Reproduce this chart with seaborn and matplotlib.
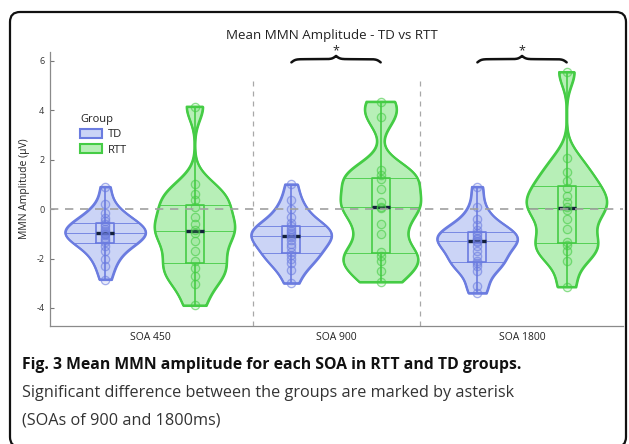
import numpy as np
import pandas as pd
import matplotlib
matplotlib.use("Agg")
import matplotlib.pyplot as plt
import seaborn as sns
from matplotlib.patches import FancyBboxPatch, Patch
from matplotlib.collections import PathCollection
from matplotlib.transforms import IdentityTransform

# ---------------- data ----------------
soas = ["SOA 450", "SOA 900", "SOA 1800"]
groups = ["TD", "RTT"]

td_450 = [0.9, 0.2, -0.15, -0.35, -0.5, -0.6, -0.7, -0.8, -0.9, -0.95,
          -1.0, -1.05, -1.15, -1.25, -1.32, -1.5, -1.7, -2.0, -2.3, -2.85]
td_900 = [1.0, 0.35, 0.0, -0.3, -0.55, -0.7, -0.8, -0.9, -0.98, -1.05,
          -1.13, -1.25, -1.4, -1.55, -1.75, -1.85, -2.0, -2.2, -2.45, -3.0]
td_1800 = [0.9, 0.1, -0.4, -0.65, -0.85, -0.95, -1.05, -1.15, -1.22, -1.28,
           -1.32, -1.5, -1.7, -1.9, -2.1, -2.2, -2.3, -2.5, -3.1, -3.4]
rtt_450 = [4.15, 1.0, 0.6, 0.35, 0.1, -0.3, -0.6, -0.85, -0.95, -1.3,
           -1.7, -2.1, -2.4, -2.7, -3.05, -3.9]
rtt_900 = [4.35, 3.72, 1.6, 1.4, 1.2, 0.8, 0.3, 0.1, 0.05, -0.6,
           -1.0, -1.75, -1.9, -2.1, -2.5, -2.95]
rtt_1800 = [5.55, 2.05, 1.5, 1.15, 0.85, 0.55, 0.3, 0.1, -0.02, -0.4,
            -0.8, -1.35, -1.45, -1.7, -2.1, -3.15]

title = "Mean MMN Amplitude - TD vs RTT"
ylabel = "MMN Amplitude (μV)"
yticks = [-4, -2, 0, 2, 4, 6]
sig_soas = ["SOA 900", "SOA 1800"]
caption_bold = "Fig. 3 Mean MMN amplitude for each SOA in RTT and TD groups."
caption_lines = ["Significant difference between the groups are marked by asterisk",
                 "(SOAs of 900 and 1800ms)"]

fill_colors = {"TD": "#cbd4f6", "RTT": "#b7efb7"}
edge_colors = {"TD": "#6b7ce0", "RTT": "#45cc45"}
kde_bandwidth = {"TD": 0.42, "RTT": 0.55}  # absolute kernel bandwidth (µV)

rows = []
for soa, vals in zip(soas, [td_450, td_900, td_1800]):
    rows += [(soa, "TD", v) for v in vals]
for soa, vals in zip(soas, [rtt_450, rtt_900, rtt_1800]):
    rows += [(soa, "RTT", v) for v in vals]
df = pd.DataFrame(rows, columns=["SOA", "Group", "Amp"])


def fixed_bw(h):
    def _bw(kde):
        x = np.asarray(kde.dataset).ravel()
        return h / x.std(ddof=1)
    return _bw


# ---------------- style ----------------
sns.set_theme(style="white")
plt.rcParams["font.family"] = ["Open Sans", "DejaVu Sans"]
plt.rcParams["text.color"] = "#222222"

W, H, DPI = 629, 444, 100
fig = plt.figure(figsize=(W / DPI, H / DPI), dpi=DPI)
fig.patch.set_facecolor("white")

ax_l, ax_r, ax_t, ax_b = 50, 623, 52, 326
ax = fig.add_axes([ax_l / W, (H - ax_b) / H, (ax_r - ax_l) / W, (ax_b - ax_t) / H])
ax.set_facecolor("white")

WIDTH = 0.96
for g in groups:
    sub = df[df.Group == g]
    kde_opts = dict(cut=0, density_norm="width", bw_method=fixed_bw(kde_bandwidth[g]),
                    bw_adjust=1.0, gridsize=400)
    common = dict(data=sub, x="SOA", y="Amp", hue="Group", order=soas,
                  hue_order=groups, dodge=True, ax=ax, legend=False)
    sns.violinplot(**common, **kde_opts, palette=fill_colors, saturation=1,
                   linecolor=edge_colors[g], linewidth=1.5, width=WIDTH, gap=0.1,
                   inner="quart",
                   inner_kws=dict(color=edge_colors[g], linewidth=0.6, dashes=[]))
    n0 = len(ax.collections)
    sns.violinplot(**common, **kde_opts, palette=edge_colors, saturation=1,
                   fill=False, linewidth=1.5, width=WIDTH, gap=0.1,
                   inner="point", inner_kws=dict(s=36))
    rgb = matplotlib.colors.to_rgb(edge_colors[g])
    for c in ax.collections[n0:]:
        if isinstance(c, PathCollection):
            c.set_facecolor((*rgb, 0.15))
            c.set_edgecolor((*rgb, 0.6))
            c.set_linewidth(0.9)
    sns.boxplot(**common, palette=edge_colors, saturation=1, fill=False,
                width=WIDTH, gap=0.8, whis=(0, 100), showcaps=False,
                showfliers=False, linewidth=1.2,
                medianprops=dict(color="#13203a", linewidth=2.4))

# reference lines
ax.axhline(0, color="#a0a0a0", lw=1.2, dashes=(5, 4), zorder=6)
ax.vlines([0.554, 1.452], -4.73, 5.35, colors="#a8a8a8", lw=0.9,
          linestyles=(0, (4, 4)), zorder=0)

ax.set_xlim(-0.538, 2.543)
ax.set_ylim(-4.73, 6.36)
ax.set_yticks(yticks)
ax.set_yticklabels([str(t) for t in yticks])
ax.set_xlabel("")
ax.set_ylabel(ylabel, fontsize=7.5, color="#222")
ax.yaxis.set_label_coords(-(50 - 30) / 573, 0.5)
for s in ["top", "right"]:
    ax.spines[s].set_visible(False)
for s in ["left", "bottom"]:
    ax.spines[s].set_color("#8a8a8a")
    ax.spines[s].set_linewidth(0.9)
ax.tick_params(axis="y", direction="in", length=3, width=0.8, color="#777",
               labelsize=6.5, pad=4, labelcolor="#333", left=True)
ax.tick_params(axis="x", length=0, labelsize=7.5, pad=4, labelcolor="#222")

# legend
handles = [Patch(facecolor=fill_colors[g], edgecolor=edge_colors[g], lw=1.5, label=g)
           for g in groups]
leg = ax.legend(handles=handles, title="Group", loc="upper left",
                bbox_to_anchor=((80 - 50) / 573, (326 - 114) / 274),
                frameon=False, fontsize=8, title_fontsize=8, handlelength=2.0,
                handleheight=0.9, labelspacing=0.35, borderpad=0,
                handletextpad=0.5, borderaxespad=0, alignment="left")

# significance braces
def curly_brace(ax, x0, x1, y, h, beta=45):
    t = np.linspace(0, 0.5, 200)
    half = 1 / (1 + np.exp(-beta * t)) + 1 / (1 + np.exp(-beta * (t - 0.5)))
    yy = np.concatenate([half, half[-2::-1]]) - 1.0
    xx = np.linspace(x0, x1, len(yy))
    ax.plot(xx, y + 2 * h * yy, color="#111", lw=1.8, clip_on=False,
            solid_capstyle="round", zorder=10)

for soa in sig_soas:
    i = soas.index(soa)
    off = WIDTH / 4
    curly_brace(ax, i - off, i + off, 6.07, 0.13)
    ax.text(i, 6.42, "*", ha="center", va="center", fontsize=9,
            color="#222", clip_on=False)

# title
t = fig.text(332 / W, (H - 35) / H, title, ha="center", va="center",
             fontsize=8.5, color="#222")

# caption
cap1 = fig.text(22 / W, (H - 365) / H, caption_bold, ha="left", va="center",
                fontsize=10, fontweight="bold", color="#111")
cap2 = fig.text(22 / W, (H - 393) / H, caption_lines[0], ha="left", va="center",
                fontsize=10, color="#333")
cap3 = fig.text(22 / W, (H - 420) / H, caption_lines[1], ha="left", va="center",
                fontsize=10, color="#333")

renderer = fig.canvas.get_renderer()
for txt, target in [(t, 210), (cap1, 496), (cap2, 493)]:
    w = txt.get_window_extent(renderer).width
    txt.set_fontsize(txt.get_fontsize() * target / w)
cap3.set_fontsize(cap2.get_fontsize())

# frame
frame = FancyBboxPatch((10, -3), 616, 444 - 12 + 3,
                       boxstyle="round,pad=0,rounding_size=10",
                       transform=IdentityTransform(), fill=False,
                       edgecolor="#111", linewidth=1.6)
fig.add_artist(frame)

fig.savefig("out.png", dpi=DPI, facecolor="white")
